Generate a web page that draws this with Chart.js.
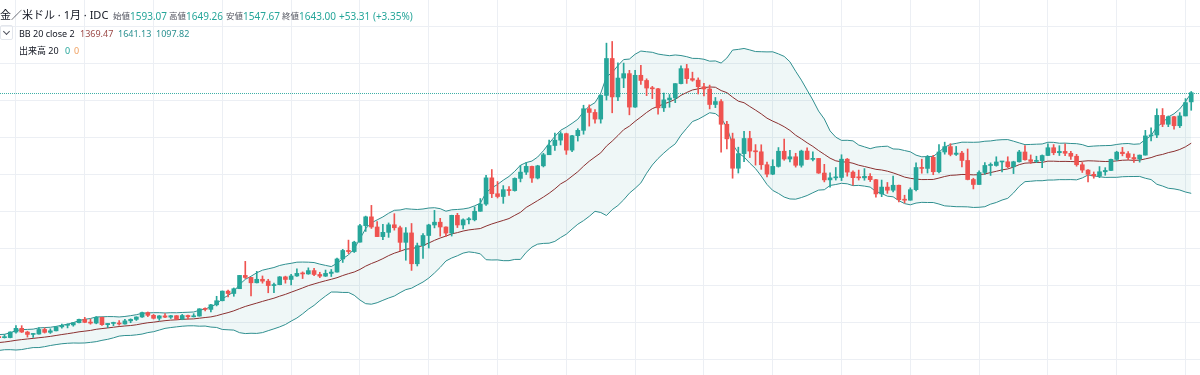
<!DOCTYPE html>
<html>
<head>
<meta charset="utf-8">
<script src="https://cdn.jsdelivr.net/npm/chart.js@4.4.0/dist/chart.umd.min.js"></script>
<style>
  body { margin: 0; background: #fff; }
  #wrap { position: relative; width: 1200px; height: 375px; overflow: hidden; font-family: "Noto Sans", "Noto Sans CJK JP", sans-serif; }
  canvas { position: absolute; left: 0; top: 0; }
  .t { position: absolute; white-space: nowrap; color: #131722; font-size: 10px; line-height: 14px; }
  .title { font-size: 11px; }
  .lbl { font-size: 8.5px; color: #50535e; }
  .small { font-size: 9px; }
  .up { color: #26a69a; }
  .basis { color: #9c4a48; }
  .band { color: #2a9090; }
  .org { color: #f0a060; }
  .chev { position: absolute; left: 0; top: 25px; width: 13px; height: 15px; border: 1px solid #e3e6ec; border-radius: 2px; box-sizing: border-box; }
  .chev::after { content: ""; position: absolute; left: 3px; top: 3px; width: 4px; height: 4px; border-right: 1.2px solid #50535e; border-bottom: 1.2px solid #50535e; transform: rotate(45deg); }
</style>
</head>
<body>
<div id="wrap">
  <canvas id="myChart" width="1200" height="375"></canvas>
  <span class="t title" style="left:0;top:8px">金／米ドル · 1月 · IDC</span>
  <span class="t lbl" style="left:113px;top:9px">始値</span><span class="t up" style="left:130px;top:9px">1593.07</span>
  <span class="t lbl" style="left:169px;top:9px">高値</span><span class="t up" style="left:186px;top:9px">1649.26</span>
  <span class="t lbl" style="left:226px;top:9px">安値</span><span class="t up" style="left:243px;top:9px">1547.67</span>
  <span class="t lbl" style="left:282px;top:9px">終値</span><span class="t up" style="left:299px;top:9px">1643.00</span>
  <span class="t up" style="left:339px;top:9px">+53.31 (+3.35%)</span>
  <i class="chev"></i>
  <span class="t small" style="left:19px;top:27px">BB 20 close 2</span>
  <span class="t small basis" style="left:80px;top:27px">1369.47</span>
  <span class="t small band" style="left:118px;top:27px">1641.13</span>
  <span class="t small band" style="left:156px;top:27px">1097.82</span>
  <span class="t small" style="left:19px;top:44px">出来高 20</span>
  <span class="t small up" style="left:65px;top:44px">0</span>
  <span class="t small org" style="left:74px;top:44px">0</span>
</div>
<script>
// monthly candles, first one is Oct 2002, last one Feb 2020
var opens = [
  323, 317, 317.5,
  347.5, 367.5, 347.5, 334.5, 336.5, 361.5, 346, 354, 375.5, 384, 386, 398,
  416, 400, 396, 427, 387.5, 394, 395, 391, 408, 416, 429, 453,
  438, 422, 435, 428, 436, 417, 437, 430, 434, 473, 470, 495,
  517, 569, 556, 582, 654, 643, 614, 633, 623, 599, 604, 646,
  632, 651, 665, 662, 680, 659, 650, 665, 672, 743, 789, 783,
  834, 923, 971, 916, 864, 887, 928, 912, 833, 884, 717, 815,
  870, 927, 942, 916, 883, 979, 927, 955, 955, 1001, 1040, 1182,
  1096, 1081, 1118, 1113, 1179, 1213, 1244, 1181, 1247, 1307, 1357, 1386,
  1421, 1332, 1410, 1439, 1556, 1536, 1500, 1628, 1828, 1620, 1722, 1746,
  1565, 1737, 1709, 1668, 1664, 1561, 1604, 1614, 1692, 1773, 1719, 1711,
  1675, 1663, 1579, 1595, 1472, 1393, 1234, 1313, 1395, 1327, 1323, 1253,
  1202, 1244, 1326, 1284, 1296, 1250, 1327, 1282, 1287, 1208, 1171, 1182,
  1184, 1283, 1213, 1183, 1182, 1190, 1172, 1095, 1132, 1115, 1142, 1064,
  1061, 1118, 1238, 1233, 1293, 1215, 1322, 1351, 1309, 1316, 1276, 1173,
  1146, 1211, 1249, 1249, 1268, 1269, 1242, 1269, 1322, 1280, 1271, 1275,
  1303, 1345, 1318, 1325, 1315, 1299, 1253, 1224, 1201, 1192, 1215, 1222,
  1282, 1321, 1313, 1292, 1284, 1305, 1409, 1414, 1520, 1472, 1513, 1464,
  1517, 1593.07
];
var highs = [
  326, 334, 349,
  383, 382, 352, 340, 372, 370, 365, 377, 391, 392, 400, 417,
  427, 418, 431, 428, 394, 401, 410, 416, 419, 430, 456, 456,
  443, 437, 447, 438, 437, 443, 439, 447, 474, 478, 497, 541,
  570, 574, 586, 654, 730, 644, 676, 651, 633, 612, 648, 650,
  660, 690, 673, 695, 692, 671, 683, 686, 748, 795, 845, 839,
  930, 975, 1033, 945, 930, 938, 988, 921, 913, 935, 829, 881,
  931, 1006, 963, 917, 980, 990, 960, 967, 1025, 1070, 1195, 1227,
  1162, 1140, 1135, 1182, 1249, 1265, 1246, 1250, 1315, 1387, 1424, 1432,
  1424, 1412, 1448, 1575, 1577, 1552, 1632, 1911, 1920, 1804, 1803, 1764,
  1764, 1791, 1718, 1677, 1666, 1641, 1633, 1692, 1788, 1796, 1754, 1723,
  1694, 1684, 1617, 1605, 1488, 1424, 1348, 1434, 1434, 1362, 1361, 1267,
  1280, 1346, 1392, 1331, 1315, 1332, 1345, 1323, 1287, 1255, 1209, 1238,
  1307, 1287, 1220, 1224, 1232, 1205, 1174, 1170, 1157, 1191, 1143, 1088,
  1128, 1263, 1283, 1303, 1304, 1362, 1375, 1367, 1352, 1326, 1338, 1180,
  1220, 1264, 1263, 1296, 1272, 1296, 1272, 1331, 1357, 1306, 1299, 1306,
  1366, 1362, 1356, 1366, 1326, 1309, 1265, 1227, 1214, 1243, 1237, 1284,
  1326, 1347, 1324, 1310, 1306, 1439, 1453, 1555, 1557, 1517, 1515, 1535,
  1611, 1649.26
];
var lows = [
  310, 315, 316,
  342, 345, 320, 319, 336, 342, 340, 354, 369, 370, 379, 397,
  398, 390, 392, 384, 371, 382, 385, 390, 398, 410, 427, 431,
  418, 411, 425, 421, 414, 414, 418, 429, 433, 462, 456, 489,
  516, 538, 541, 582, 637, 543, 613, 612, 560, 560, 603, 612,
  603, 649, 637, 660, 652, 642, 648, 648, 671, 724, 772, 778,
  834, 892, 908, 864, 848, 860, 899, 786, 736, 681, 705, 746,
  802, 911, 866, 865, 867, 913, 905, 932, 949, 1001, 1033, 1075,
  1073, 1044, 1087, 1110, 1160, 1200, 1157, 1176, 1241, 1310, 1330, 1360,
  1309, 1324, 1381, 1418, 1462, 1478, 1478, 1603, 1534, 1600, 1670, 1523,
  1563, 1688, 1627, 1611, 1527, 1541, 1564, 1589, 1690, 1693, 1705, 1636,
  1626, 1555, 1562, 1321, 1338, 1180, 1208, 1270, 1292, 1251, 1228, 1187,
  1199, 1240, 1277, 1268, 1240, 1240, 1281, 1273, 1206, 1160, 1131, 1170,
  1167, 1191, 1142, 1170, 1169, 1162, 1077, 1080, 1098, 1106, 1052, 1046,
  1061, 1111, 1207, 1208, 1199, 1208, 1310, 1301, 1303, 1241, 1171, 1122,
  1146, 1200, 1195, 1245, 1214, 1237, 1205, 1267, 1277, 1260, 1264, 1237,
  1302, 1307, 1303, 1302, 1282, 1245, 1211, 1160, 1180, 1183, 1196, 1221,
  1276, 1301, 1281, 1266, 1267, 1305, 1382, 1400, 1459, 1459, 1445, 1454,
  1517, 1547.67
];
var closes = [
  317, 317.5, 347.5,
  367.5, 347.5, 334.5, 336.5, 361.5, 346, 354, 375.5, 384, 386, 398, 416,
  400, 396, 427, 387.5, 394, 395, 391, 408, 416, 429, 453, 438,
  422, 435, 428, 436, 417, 437, 430, 434, 473, 470, 495, 517,
  569, 556, 582, 654, 643, 614, 633, 623, 599, 604, 646, 632,
  651, 665, 662, 680, 659, 650, 665, 672, 743, 789, 783, 834,
  923, 971, 916, 864, 887, 928, 912, 833, 884, 717, 815, 870,
  927, 942, 916, 883, 979, 927, 955, 955, 1001, 1040, 1182, 1096,
  1081, 1118, 1113, 1179, 1213, 1244, 1181, 1247, 1307, 1357, 1386, 1421,
  1332, 1410, 1439, 1556, 1536, 1500, 1628, 1828, 1620, 1722, 1746, 1565,
  1737, 1709, 1668, 1664, 1561, 1604, 1614, 1692, 1773, 1719, 1711, 1675,
  1663, 1579, 1595, 1472, 1393, 1234, 1313, 1395, 1327, 1323, 1253, 1202,
  1244, 1326, 1284, 1296, 1250, 1327, 1282, 1287, 1208, 1171, 1182, 1184,
  1283, 1213, 1183, 1182, 1190, 1172, 1095, 1132, 1115, 1142, 1064, 1061,
  1118, 1238, 1233, 1293, 1215, 1322, 1351, 1309, 1316, 1276, 1173, 1146,
  1211, 1249, 1249, 1268, 1269, 1242, 1269, 1322, 1280, 1271, 1275, 1303,
  1345, 1318, 1325, 1315, 1299, 1253, 1224, 1201, 1192, 1215, 1222, 1282,
  1321, 1313, 1292, 1284, 1305, 1409, 1414, 1520, 1472, 1513, 1464, 1517,
  1589, 1643.00
];
// closes Mar 2001 - Sep 2002, only used so the first bands have 20 months
var earlierCloses = [258, 264, 267, 271, 265, 273, 293, 279, 275, 277, 282, 297, 302, 308, 326, 318, 304, 312, 324];

var januaryIndexes = [3, 15, 27, 39, 51, 63, 75, 87, 99, 111, 123, 135, 147, 159, 171, 183, 195, 207];
var priceTicks = [200, 400, 600, 800, 1000, 1200, 1400, 1600, 1800, 2000];

var UP = '#26a69a', DOWN = '#ef5350';

// Bollinger 20 / 2 on closes
var allCloses = earlierCloses.concat(closes);
var basis = [], upper = [], lower = [];
for (var i = 0; i < closes.length; i++) {
  var win = allCloses.slice(i + earlierCloses.length - 19, i + earlierCloses.length + 1);
  var m = win.reduce(function (a, b) { return a + b; }, 0) / win.length;
  var sd = Math.sqrt(win.reduce(function (a, b) { return a + (b - m) * (b - m); }, 0) / win.length);
  basis.push({ x: i, y: m });
  upper.push({ x: i, y: m + 2 * sd });
  lower.push({ x: i, y: m - 2 * sd });
}

var bodies = [], wicks = [], candleColors = [];
for (var j = 0; j < closes.length; j++) {
  bodies.push({ x: j, y: [opens[j], closes[j]] });
  wicks.push({ x: j, y: [lows[j], highs[j]] });
  candleColors.push(closes[j] >= opens[j] ? UP : DOWN);
}

var lastPriceLine = {
  id: 'lastPriceLine',
  beforeDatasetsDraw: function (chart) {
    var ctx = chart.ctx;
    var y = Math.round(chart.scales.y.getPixelForValue(closes[closes.length - 1])) + 0.5;
    ctx.save();
    ctx.strokeStyle = '#3fb0a6';
    ctx.lineWidth = 1;
    ctx.setLineDash([1, 1]);
    ctx.beginPath();
    ctx.moveTo(chart.chartArea.left, y);
    ctx.lineTo(chart.chartArea.right, y);
    ctx.stroke();
    ctx.restore();
  }
};

new Chart(document.getElementById('myChart'), {
  type: 'bar',
  data: {
    datasets: [
      { type: 'bar', data: bodies, backgroundColor: candleColors, barThickness: 4, minBarLength: 1, grouped: false, order: 0 },
      { type: 'bar', data: wicks, backgroundColor: candleColors, barThickness: 1, grouped: false, order: 1 },
      { type: 'line', data: basis, borderColor: '#8b3030', borderWidth: 1, pointRadius: 0, order: 2 },
      { type: 'line', data: upper, borderColor: '#2f8f8f', borderWidth: 1, pointRadius: 0, fill: 4, backgroundColor: 'rgba(25,135,135,0.07)', order: 3 },
      { type: 'line', data: lower, borderColor: '#2f8f8f', borderWidth: 1, pointRadius: 0, order: 4 }
    ]
  },
  options: {
    responsive: false,
    animation: false,
    devicePixelRatio: 1,
    layout: { padding: 0 },
    plugins: { legend: { display: false }, tooltip: { enabled: false }, filler: { drawTime: 'beforeDatasetsDraw' } },
    scales: {
      x: {
        type: 'linear', min: 0.215, max: 209.53, offset: false,
        grid: { color: '#eceff4', offset: false, drawTicks: false },
        border: { display: false },
        ticks: { display: false },
        afterBuildTicks: function (scale) { scale.ticks = januaryIndexes.map(function (v) { return { value: v }; }); }
      },
      y: {
        type: 'linear', min: 115, max: 2144.5,
        grid: { color: '#eceff4', drawTicks: false },
        border: { display: false },
        ticks: { display: false },
        afterBuildTicks: function (scale) { scale.ticks = priceTicks.map(function (v) { return { value: v }; }); }
      }
    }
  },
  plugins: [lastPriceLine]
});
</script>
</body>
</html>
